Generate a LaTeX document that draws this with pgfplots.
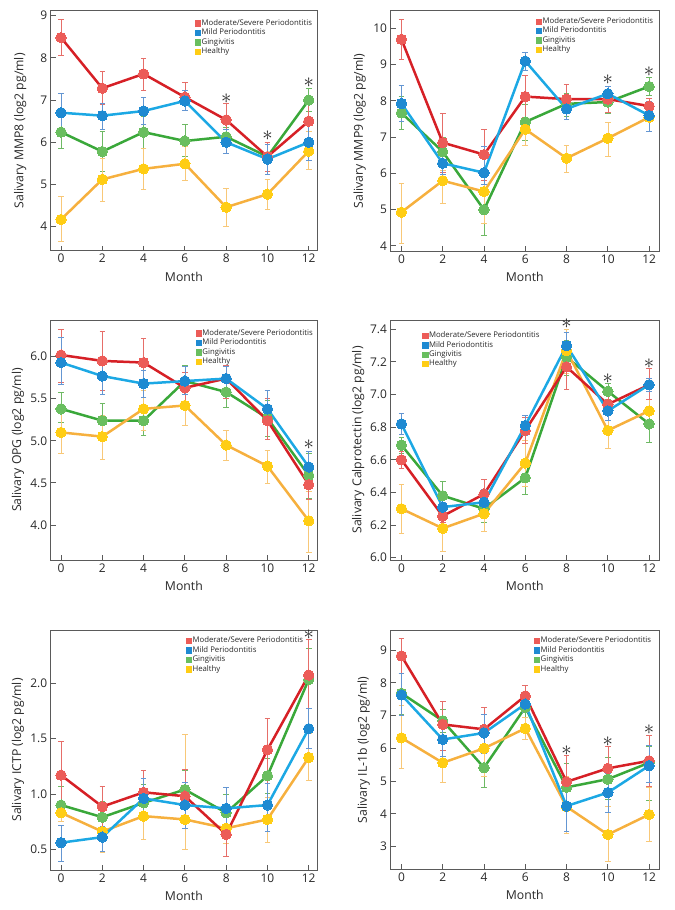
\documentclass[border=0pt]{standalone}
\usepackage{pgfplots}
\usepackage{pgfplotstable}
\pgfplotsset{compat=1.18}
\usepackage{fontspec}
\setmainfont{Open Sans}

\definecolor{redline}{RGB}{214,32,38}
\definecolor{redmark}{RGB}{236,92,88}
\definecolor{rederr}{RGB}{230,110,105}
\definecolor{blueline}{RGB}{28,168,228}
\definecolor{bluemark}{RGB}{30,138,210}
\definecolor{blueerr}{RGB}{100,150,210}
\definecolor{greenline}{RGB}{58,168,58}
\definecolor{greenmark}{RGB}{105,190,95}
\definecolor{greenerr}{RGB}{110,185,100}
\definecolor{yellowline}{RGB}{246,176,62}
\definecolor{yellowmark}{RGB}{255,205,20}
\definecolor{yellowerr}{RGB}{248,200,120}
\definecolor{axisgray}{RGB}{90,90,90}
\definecolor{tickc}{RGB}{40,40,40}

% x r rp rm b bp bm g gp gm h hp hm
\pgfplotstableread{
x r rp rm b bp bm g gp gm h hp hm
0 8.48 .44 .43 6.70 .45 .40 6.24 .39 .39 4.17 .55 .52
2 7.28 .40 .38 6.63 .29 .33 5.78 .47 .48 5.12 .50 .52
4 7.62 .38 .39 6.74 .33 .32 6.24 .38 .39 5.37 .48 .49
6 7.07 .35 .32 6.98 .24 .23 6.03 .40 .36 5.49 .41 .39
8 6.53 .39 .38 6.00 .30 .25 6.13 .22 .23 4.46 .44 .46
10 5.66 .34 .36 5.60 .35 .35 5.66 .34 .36 4.77 .35 .35
12 6.50 .40 .40 6.00 .42 .42 7.00 .27 .26 5.79 .46 .44
}\tMMPviii
\pgfplotstableread{
x r rp rm b bp bm g gp gm h hp hm
0 9.70 .55 .55 7.93 .49 .49 7.67 .45 .45 4.93 .79 .86
2 6.85 .82 .82 6.28 .30 .30 6.60 .40 .40 5.80 .30 .62
4 6.52 .71 .71 6.02 .72 .32 5.00 .70 .70 5.50 .30 .88
6 8.12 .58 .57 9.10 .25 .25 7.42 .50 .50 7.22 .28 .44
8 8.05 .40 .40 7.78 .22 .30 7.92 .28 .35 6.42 .36 .40
10 8.05 .35 .35 8.20 .20 .30 7.97 .30 .30 6.97 .45 .49
12 7.86 .22 .22 7.60 .40 .45 8.40 .25 .25 7.55 .30 .40
}\tMMPix
\pgfplotstableread{
x r rp rm b bp bm g gp gm h hp hm
0 6.02 .31 .32 5.93 .30 .26 5.38 .20 .16 5.10 .25 .25
2 5.95 .35 .35 5.77 .23 .22 5.24 .21 .21 5.05 .25 .27
4 5.93 .29 .28 5.68 .16 .16 5.24 .16 .17 5.38 .22 .26
6 5.63 .19 .18 5.71 .17 .16 5.71 .19 .16 5.42 .23 .24
8 5.74 .16 .24 5.74 .14 .14 5.58 .17 .18 4.95 .18 .18
10 5.24 .26 .22 5.38 .22 .20 5.27 .21 .22 4.70 .19 .20
12 4.48 .20 .18 4.69 .18 .19 4.59 .26 .27 4.05 .35 .37
}\tOPG
\pgfplotstableread{
x r rp rm b bp bm g gp gm h hp hm
0 6.60 .05 .05 6.82 .065 .065 6.69 .05 .05 6.30 .15 .15
2 6.255 .05 .04 6.31 .03 .03 6.38 .09 .08 6.18 .12 .14
4 6.39 .09 .09 6.34 .08 .05 6.30 .08 .08 6.27 .11 .11
6 6.78 .08 .08 6.81 .06 .06 6.49 .10 .10 6.58 .14 .14
8 7.17 .13 .14 7.30 .08 .05 7.23 .10 .11 7.27 .13 .14
10 6.94 .06 .05 6.90 .06 .06 7.02 .05 .05 6.78 .11 .11
12 7.06 .10 .09 7.06 .04 .04 6.82 .11 .11 6.90 .07 .07
}\tCAL
\pgfplotstableread{
x r rp rm b bp bm g gp gm h hp hm
0 1.17 .31 .32 0.56 .16 .17 0.90 .17 .15 0.83 .09 .08
2 0.886 .18 .18 0.61 .10 .13 0.79 .14 .13 0.66 .19 .19
4 1.015 .20 .20 0.96 .18 .18 0.92 .17 .16 0.80 .20 .21
6 0.98 .24 .23 0.90 .21 .21 1.04 .17 .17 0.77 .77 .27
8 0.635 .20 .20 0.87 .19 .19 0.83 .17 .13 0.69 .16 .14
10 1.40 .28 .30 0.90 .20 .24 1.165 .16 .16 0.77 .20 .21
12 2.075 .32 .30 1.59 .18 .18 2.035 .285 .265 1.33 .22 .21
}\tICTP
\pgfplotstableread{
x r rp rm b bp bm g gp gm h hp hm
0 8.82 .53 .52 7.63 .67 .63 7.68 .62 .63 6.32 .98 .94
2 6.73 .72 .78 6.27 .63 .52 6.84 .34 .34 5.56 .61 .61
4 6.58 .67 .73 6.47 .58 .62 5.41 .59 .61 6.00 .40 .85
6 7.60 .32 .30 7.35 .25 .25 7.25 .30 .30 6.61 .34 .33
8 4.98 .82 .83 4.24 .76 .76 4.81 .74 .71 4.22 .93 .80
10 5.39 .66 .69 4.65 .60 .60 5.06 .66 .61 3.37 .85 .82
12 5.62 .78 .77 5.47 .63 .52 5.56 .50 1.14 3.98 .82 .81
}\tIL

\pgfplotsset{
  ser/.style n args={3}{draw=#1, line width=2.5bp, mark=*, mark size=5.2bp,
    mark options={fill=#2, draw=#2, line width=0pt, solid},
    error bars/y dir=both, error bars/y explicit,
    error bars/error bar style={draw=#3, line width=0.6bp},
    error bars/error mark options={rotate=90, draw=#3, mark size=2.8bp, line width=0.6bp}},
  sr/.style={ser={redline}{redmark}{rederr}},
  sb/.style={ser={blueline}{bluemark}{blueerr}},
  sg/.style={ser={greenline}{greenmark}{greenerr}},
  sh/.style={ser={yellowline}{yellowmark}{yellowerr}},
  star/.style={draw=none, mark=none, forget plot, nodes near coords={$\ast$},
    every node near coord/.append style={anchor=center, font=\fontsize{21}{21}\selectfont, text=black!85, inner sep=0pt}},
  panel/.style={
    scale only axis, clip=false,
    xtick={0,2,4,6,8,10,12},
    tick align=inside, xtick pos=left, ytick pos=left,
    major tick length=5bp,
    axis line style={draw=axisgray, line width=0.9bp},
    every tick/.style={draw=axisgray, line width=0.9bp},
    tick label style={font=\fontsize{12}{12}\selectfont, text=tickc},
    label style={font=\fontsize{12.3}{12}\selectfont, text=tickc},
    /pgf/number format/assume math mode=true,
    xlabel={Month},
    xlabel style={at={(axis description cs:0.5,-0.108)}, anchor=center},
    legend cell align=left,
    legend style={draw=none, fill=none, anchor=north west, inner sep=0pt, row sep=0pt,
      font=\fontsize{7.8}{8}\selectfont, text=tickc,
      nodes={font=\fontsize{7.8}{8}\selectfont, inner sep=1.1bp, text height=5.6bp, text depth=1.6bp}},
  },
  leftp/.style={panel, width=266.3bp, xmin=-0.5, xmax=12.4},
  rightp/.style={panel, width=268.5bp, xmin=-0.53, xmax=12.48},
}
\newcommand{\legimgs}{%
  \addlegendimage{legend image code/.code={\fill[redmark] (0bp,-2.7bp) rectangle (5.4bp,2.7bp);}}
  \addlegendentry{Moderate/Severe Periodontitis}
  \addlegendimage{legend image code/.code={\fill[bluemark] (0bp,-2.7bp) rectangle (5.4bp,2.7bp);}}
  \addlegendentry{Mild Periodontitis}
  \addlegendimage{legend image code/.code={\fill[greenmark] (0bp,-2.7bp) rectangle (5.4bp,2.7bp);}}
  \addlegendentry{Gingivitis}
  \addlegendimage{legend image code/.code={\fill[yellowmark] (0bp,-2.7bp) rectangle (5.4bp,2.7bp);}}
  \addlegendentry{Healthy}
}

\begin{document}
\begin{tikzpicture}
\path[use as bounding box] (0bp,0bp) rectangle (675bp,910bp);

% Panel 1: MMP8
\begin{axis}[leftp, at={(50.7bp,659.3bp)}, anchor=south west, height=240bp,
  ymin=3.43, ymax=9.118, ytick={4,5,6,7,8,9},
  ylabel={Salivary MMP8 (log2 pg/ml)},
  ylabel style={at={(axis description cs:-0.115,0.5)}, anchor=center},
  legend style={at={(axis description cs:0.54,0.968)}}]
\legimgs
\addplot[sg, forget plot] table[x=x,y=g,y error plus=gp,y error minus=gm]{\tMMPviii};
\addplot[sh, forget plot] table[x=x,y=h,y error plus=hp,y error minus=hm]{\tMMPviii};
\addplot[sr, forget plot] table[x=x,y=r,y error plus=rp,y error minus=rm]{\tMMPviii};
\addplot[sb, forget plot] table[x=x,y=b,y error plus=bp,y error minus=bm]{\tMMPviii};
\addplot[star] coordinates {(8,7.04) (10,6.15) (12,7.41)};
\end{axis}

% Panel 2: MMP9
\begin{axis}[rightp, at={(390.5bp,659bp)}, anchor=south west, height=240.3bp,
  ymin=3.86, ymax=10.49, ytick={4,5,6,7,8,9,10},
  ylabel={Salivary MMP9 (log2 pg/ml)},
  ylabel style={at={(axis description cs:-0.115,0.5)}, anchor=center},
  legend style={at={(axis description cs:0.54,0.975)}}]
\legimgs
\addplot[sg, forget plot] table[x=x,y=g,y error plus=gp,y error minus=gm]{\tMMPix};
\addplot[sh, forget plot] table[x=x,y=h,y error plus=hp,y error minus=hm]{\tMMPix};
\addplot[sr, forget plot] table[x=x,y=r,y error plus=rp,y error minus=rm]{\tMMPix};
\addplot[sb, forget plot] table[x=x,y=b,y error plus=bp,y error minus=bm]{\tMMPix};
\addplot[star] coordinates {(10,8.58) (12,8.8)};
\end{axis}

% Panel 3: OPG
\begin{axis}[leftp, at={(50.7bp,350bp)}, anchor=south west, height=240bp,
  ymin=3.584, ymax=6.436, ytick={4.0,4.5,5.0,5.5,6.0},
  yticklabel style={/pgf/number format/.cd, fixed, fixed zerofill, precision=1},
  ylabel={Salivary OPG (log2 pg/ml)},
  ylabel style={at={(axis description cs:-0.123,0.5)}, anchor=center},
  legend style={at={(axis description cs:0.543,0.965)}}]
\legimgs
\addplot[sg, forget plot] table[x=x,y=g,y error plus=gp,y error minus=gm]{\tOPG};
\addplot[sh, forget plot] table[x=x,y=h,y error plus=hp,y error minus=hm]{\tOPG};
\addplot[sr, forget plot] table[x=x,y=r,y error plus=rp,y error minus=rm]{\tOPG};
\addplot[sb, forget plot] table[x=x,y=b,y error plus=bp,y error minus=bm]{\tOPG};
\addplot[star] coordinates {(12,4.95)};
\end{axis}

% Panel 4: Calprotectin
\begin{axis}[rightp, at={(390.5bp,350bp)}, anchor=south west, height=240bp,
  ymin=5.986, ymax=7.457, ytick={6.0,6.2,6.4,6.6,6.8,7.0,7.2,7.4},
  yticklabel style={/pgf/number format/.cd, fixed, fixed zerofill, precision=1},
  ylabel={Salivary Calprotectin (log2 pg/ml)},
  ylabel style={at={(axis description cs:-0.12,0.5)}, anchor=center},
  legend style={at={(axis description cs:0.117,0.955)}}]
\legimgs
\addplot[sg, forget plot] table[x=x,y=g,y error plus=gp,y error minus=gm]{\tCAL};
\addplot[sh, forget plot] table[x=x,y=h,y error plus=hp,y error minus=hm]{\tCAL};
\addplot[sr, forget plot] table[x=x,y=r,y error plus=rp,y error minus=rm]{\tCAL};
\addplot[sb, forget plot] table[x=x,y=b,y error plus=bp,y error minus=bm]{\tCAL};
\addplot[star] coordinates {(8,7.433) (10,7.10) (12,7.19)};
\end{axis}

% Panel 5: ICTP
\begin{axis}[leftp, at={(50.7bp,40bp)}, anchor=south west, height=240bp,
  ymin=0.313, ymax=2.482, ytick={0.5,1.0,1.5,2.0},
  yticklabel style={/pgf/number format/.cd, fixed, fixed zerofill, precision=1},
  ylabel={Salivary ICTP (log2 pg/ml)},
  ylabel style={at={(axis description cs:-0.123,0.5)}, anchor=center},
  legend style={at={(axis description cs:0.506,0.975)}}]
\legimgs
\addplot[sg, forget plot] table[x=x,y=g,y error plus=gp,y error minus=gm]{\tICTP};
\addplot[sh, forget plot] table[x=x,y=h,y error plus=hp,y error minus=hm]{\tICTP};
\addplot[sr, forget plot] table[x=x,y=r,y error plus=rp,y error minus=rm]{\tICTP};
\addplot[sb, forget plot] table[x=x,y=b,y error plus=bp,y error minus=bm]{\tICTP};
\addplot[star] coordinates {(12,2.44)};
\end{axis}

% Panel 6: IL-1b
\begin{axis}[rightp, at={(390.5bp,40.7bp)}, anchor=south west, height=238.6bp,
  ymin=2.31, ymax=9.589, ytick={3,4,5,6,7,8,9},
  ylabel={Salivary IL-1b (log2 pg/ml)},
  ylabel style={at={(axis description cs:-0.1,0.5)}, anchor=center},
  legend style={at={(axis description cs:0.533,0.978)}}]
\legimgs
\addplot[sg, forget plot] table[x=x,y=g,y error plus=gp,y error minus=gm]{\tIL};
\addplot[sh, forget plot] table[x=x,y=h,y error plus=hp,y error minus=hm]{\tIL};
\addplot[sr, forget plot] table[x=x,y=r,y error plus=rp,y error minus=rm]{\tIL};
\addplot[sb, forget plot] table[x=x,y=b,y error plus=bp,y error minus=bm]{\tIL};
\addplot[star] coordinates {(8,5.93) (10,6.2) (12,6.56)};
\end{axis}
\end{tikzpicture}
\end{document}
